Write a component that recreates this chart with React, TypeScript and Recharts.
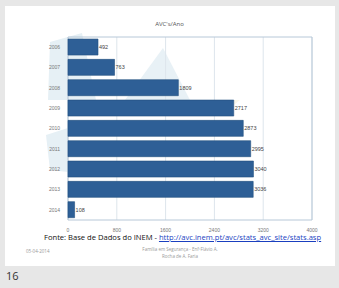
import React from "react";
import {
  BarChart, Bar, XAxis, YAxis, CartesianGrid, LabelList, ReferenceArea,
} from "recharts";

const years = ["2006", "2007", "2008", "2009", "2010", "2011", "2012", "2013", "2014"];
const cases = [492, 763, 1809, 2717, 2873, 2995, 3040, 3036, 108];
const xTicks = [0, 800, 1600, 2400, 3200, 4000];

const data = years.map((y, i) => ({ year: y, value: cases[i] }));

const BAR = "#2e5f96";
const TICK = { fill: "#777", fontSize: 5, fontFamily: "Liberation Sans" };

export default function App() {
  return (
    <div style={{ position: "absolute", left: 0, top: 0, width: 339, height: 288, background: "#e7e7e7", overflow: "hidden", fontFamily: "'Open Sans', sans-serif" }}>
      {/* slide */}
      <div style={{ position: "absolute", left: 5, top: 6, width: 330, height: 260, background: "#fff" }} />
      {/* faint watermark shapes */}
      <svg width={339} height={288} style={{ position: "absolute", left: 0, top: 0 }}>
        <polygon points="50,42 82,33 96,100 48,100" fill="#e6f0f5" />
        <polygon points="125,100 163,48 190,100" fill="#e8f1f6" />
        <polygon points="46,135 68,128 68,172 50,170" fill="#e6f0f5" />
        <polygon points="190,100 240,100 230,108" fill="#f5f0dc" opacity={0.6} />
      </svg>
      <div style={{ position: "absolute", left: 0, top: 20, width: 339, textAlign: "center", fontSize: 6, color: "#555" }}>
        AVC's/Ano
      </div>
      <div style={{ position: "absolute", left: 0, top: 0 }}>
        <BarChart
          width={339}
          height={240}
          data={data}
          layout="vertical"
          barCategoryGap="10%"
          margin={{ top: 37, right: 27, bottom: 8, left: 46 }}
        >
          <CartesianGrid horizontal={false} stroke="#dde5ec" />
          <XAxis
            type="number"
            domain={[0, 4000]}
            ticks={xTicks}
            tick={TICK}
            tickLine={false}
            axisLine={false}
            height={12}
            interval={0}
          />
          <YAxis
            type="category"
            dataKey="year"
            tick={TICK}
            tickLine={false}
            axisLine={false}
            width={22}
          />
          <ReferenceArea x1={0} x2={4000} fill="none" stroke="#b7c8d8" strokeWidth={1} ifOverflow="extendDomain" />
          <Bar dataKey="value" fill={BAR} stroke="#24507f" strokeWidth={0.6} isAnimationActive={false}>
            <LabelList dataKey="value" position="right" offset={1} style={{ fill: "#444", fontSize: 5.5, fontFamily: "Liberation Sans" }} />
          </Bar>
        </BarChart>
      </div>
      <div style={{ position: "absolute", left: 44, top: 232, fontSize: 7.6, color: "#111", whiteSpace: "nowrap" }}>
        Fonte: Base de Dados do INEM - <span style={{ color: "#1a3fbf", textDecoration: "underline" }}>http://avc.inem.pt/avc/stats_avc_site/stats.asp</span>
      </div>
      <div style={{ position: "absolute", left: 26, top: 248, fontSize: 4.5, color: "#999" }}>05-04-2014</div>
      <div style={{ position: "absolute", left: 120, top: 246, width: 120, textAlign: "center", fontSize: 4.5, color: "#999", lineHeight: "7px" }}>
        Família em Segurança - EnfºFlávio A.<br />Rocha de A. Faria
      </div>
      <div style={{ position: "absolute", left: 6, top: 268, fontSize: 11, color: "#333" }}>16</div>
    </div>
  );
}
